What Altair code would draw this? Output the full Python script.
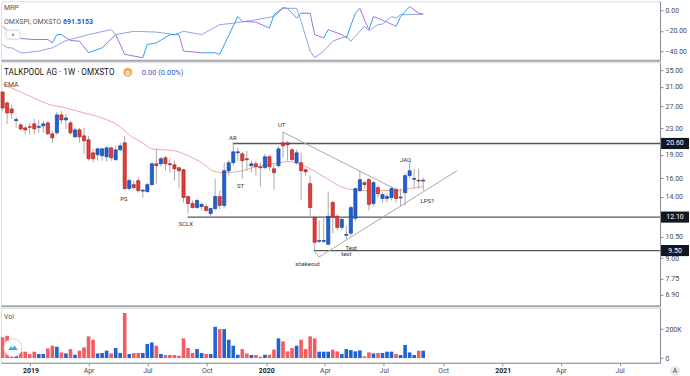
import altair as alt
import pandas as pd

# ---------------- data ----------------
first_bar = "2018-11-19"  # weekly bars, one per Monday

opens = [29.88, 27.61, 26.44, 24.30, 23.57, 23.06, 23.25, 23.74, 23.15, 23.40,
         23.91, 22.09, 22.25, 25.33, 24.43, 23.91, 21.61, 22.73, 21.77, 21.15,
         19.26, 18.98, 18.85, 18.72, 19.96, 18.32, 19.68, 20.70, 14.87, 15.30,
         15.75, 14.60, 14.55, 15.30, 17.79, 17.79, 18.58, 17.79, 17.66, 17.29,
         17.04, 14.04, 13.35, 12.96, 13.06, 13.06, 12.42, 12.87, 14.04, 13.16,
         16.90, 17.93, 19.26, 19.12, 18.45, 17.54, 17.79, 17.41, 17.29, 18.72,
         17.16, 17.54, 20.70, 20.70, 19.68, 17.93, 17.93, 17.04, 15.41, 12.08,
         10.15, 10.15, 9.94, 13.45, 12.17, 11.23, 10.60, 10.76, 11.99, 14.65,
         15.52, 15.86, 13.35, 14.98, 13.84, 13.84, 13.94, 14.76, 13.90, 14.44,
         16.33, 15.90, 15.80, 15.70]
highs = [30.09, 28.01, 27.21, 24.96, 23.91, 23.40, 23.91, 24.61, 24.43, 24.26,
         24.26, 22.57, 25.88, 26.06, 25.51, 24.26, 23.06, 23.06, 23.06, 21.77,
         19.82, 19.96, 19.96, 20.25, 20.10, 20.25, 20.70, 21.77, 16.09, 15.75,
         16.09, 14.87, 15.52, 17.93, 19.82, 18.72, 18.85, 18.45, 18.19, 17.41,
         17.16, 14.14, 13.64, 13.84, 13.45, 13.35, 12.96, 15.97, 14.65, 17.93,
         18.32, 20.60, 19.96, 19.40, 19.54, 18.19, 18.19, 17.93, 19.12, 18.98,
         17.79, 20.25, 22.40, 21.00, 19.96, 19.68, 19.26, 17.16, 16.33, 12.25,
         11.81, 12.17, 14.55, 13.64, 12.34, 12.08, 11.39, 13.16, 14.98, 16.92,
         15.75, 16.09, 15.75, 15.19, 14.44, 14.33, 15.08, 14.98, 14.87, 16.68,
         17.93, 17.16, 17.16, 16.09]
lows = [26.06, 23.74, 24.61, 23.06, 22.57, 21.93, 21.93, 22.09, 22.25, 22.25,
        21.93, 20.70, 21.93, 23.74, 22.89, 21.93, 21.46, 20.70, 19.12, 18.19,
        17.93, 18.19, 18.19, 18.06, 18.19, 18.19, 19.54, 14.76, 14.65, 14.76,
        14.44, 13.94, 14.44, 15.19, 15.41, 17.41, 16.92, 16.68, 15.75, 14.98,
        13.45, 12.42, 12.87, 12.87, 12.69, 12.60, 11.99, 12.69, 12.78, 12.87,
        16.33, 17.54, 18.19, 15.97, 16.92, 16.68, 16.33, 15.08, 17.16, 16.92,
        14.76, 17.29, 18.58, 18.19, 18.19, 17.66, 13.64, 16.33, 12.17, 9.50,
        10.01, 10.01, 9.87, 10.76, 10.99, 10.99, 10.23, 10.53, 11.73, 14.44,
        14.87, 12.69, 13.06, 13.94, 13.45, 13.45, 13.64, 13.45, 13.06, 13.16,
        16.09, 14.87, 14.87, 14.65]
closes = [26.63, 25.69, 25.69, 24.50, 22.89, 22.73, 23.15, 22.89, 23.30, 23.74,
          22.09, 21.46, 25.33, 24.43, 24.78, 22.25, 22.73, 21.61, 21.00, 18.45,
          18.45, 19.82, 19.82, 19.96, 18.58, 19.68, 20.25, 14.87, 15.75, 14.98,
          14.65, 14.70, 15.30, 17.79, 17.54, 18.45, 17.79, 17.66, 17.16, 16.92,
          13.94, 13.35, 12.96, 13.64, 13.26, 12.69, 12.87, 14.04, 13.16, 16.92,
          17.93, 19.40, 19.40, 18.19, 18.32, 17.79, 17.41, 17.29, 18.72, 17.41,
          16.68, 19.82, 20.25, 20.40, 18.32, 19.26, 16.92, 16.80, 12.96, 10.08,
          10.22, 10.22, 12.17, 12.08, 11.23, 11.90, 10.68, 12.96, 14.87, 15.86,
          15.30, 13.26, 15.52, 14.33, 14.24, 14.04, 14.87, 13.84, 13.98, 16.33,
          16.92, 16.00, 15.70, 15.80]
volume_k = [143, 154, 60, 40, 45, 44, 28, 44, 28, 28,
            67, 85, 78, 39, 32, 62, 23, 51, 74, 150,
            127, 32, 35, 51, 32, 69, 35, 311, 28, 35,
            35, 35, 97, 108, 85, 28, 21, 21, 21, 16,
            136, 69, 35, 62, 35, 28, 28, 216, 200, 200,
            127, 85, 23, 62, 32, 21, 21, 9, 23, 23,
            58, 136, 115, 46, 69, 85, 127, 62, 150, 136,
            44, 44, 44, 58, 46, 28, 62, 55, 46, 53,
            12, 39, 32, 35, 35, 44, 44, 28, 21, 90,
            39, 21, 51, 51]

ema_bar = [0, 2, 6, 10, 14, 18, 22, 26, 28, 31, 33, 38, 41, 44, 47, 49, 53, 56,
           59, 63, 66, 68, 71, 76, 80, 87, 90, 93]
ema_val = [31.65, 30.75, 29.03, 27.40, 26.63, 25.69, 24.78, 23.23, 21.93, 20.70,
           19.82, 19.54, 18.85, 17.93, 16.80, 16.68, 16.92, 17.42, 17.67, 18.06,
           17.67, 17.16, 16.21, 14.87, 14.65, 14.65, 14.87, 15.08]

mrp_bar = [0, 2, 4, 7, 10, 11, 12, 13, 15, 17, 19, 22, 25, 27, 31, 32, 34, 37, 39, 40,
           44, 47, 48, 52, 53, 56, 59, 60, 62, 63, 65, 66, 68, 69, 71, 72, 73, 75, 76, 78,
           79, 80, 81, 82, 85, 87, 88, 90, 92, 93]
mrp_val = [-15.7, -23.8, -27.6, -28.6, -28.6, -31.9, -23.8, -23.8, -29.6, -30.2,
           -41.5, -36.7, -23.8, -43.1, -46.4, -33.4, -31.9, -23.8, -23.8, -39.9,
           -41.5, -41.5, -43.1, -6.1, -10.9, -11.6, -17.4, -4.4, 2.6, 1.9,
           -7.7, -2.9, -2.9, -23.8, -27.1, -18.9, -20.6, -23.8, -27.0, -2.9,
           1.9, -9.3, -18.9, -6.1, -11.6, -15.7, -6.1, 3.6, -2.9, -3.8]
mrp2_bar = [0, 1, 2, 4, 5, 8, 11, 14, 19, 24, 25, 29, 34, 38, 40, 44, 48, 51, 56, 60,
            62, 65, 66, 68, 69, 71, 73, 76, 77, 80, 81, 83, 84, 86, 87, 88, 93]
mrp2_val = [-33.4, -36.7, -36.7, -41.5, -41.5, -39.9, -36.7, -29.6, -23.8, -18.9,
            -23.8, -20.6, -21.3, -23.8, -20.6, -23.8, -14.1, -12.6, -9.3, -6.1,
            1.9, 1.9, -10.9, -39.9, -46.4, -39.9, -30.2, -25.4, -30.2, -15.7,
            -19.9, -14.1, -13.5, -6.1, -7.7, -4.4, -3.8]

level_price = [20.60, 12.10, 9.50]
level_from_bar = [50.9, 40.9, 68.8]

trend_name = ["ut", "ut", "lps", "lps", "lps"]
trend_bar = [61.9, 87.5, 68.8, 69.9, 100.5]
trend_price = [22.40, 14.65, 9.52, 9.05, 16.93]

ann_text = ["PS", "SCLX", "AR", "ST", "UT", "JAQ", "LPS?", "shakeout", "Test", "test"]
ann_bar = [26.8, 40.5, 50.9, 52.6, 61.7, 89.1, 93.9, 67.4, 77.1, 76.0]
ann_price = [13.74, 11.48, 21.46, 15.19, 23.56, 18.32, 13.64, 8.61, 9.66, 9.25]

main_ticks = [35, 31, 27, 23, 19, 16, 14, 10.5, 9, 7.75, 6.9]
mrp_ticks = [0, -20, -40]
vol_ticks = [0, 200000]
month_ticks = ["2019-01-01", "2019-04-01", "2019-07-01", "2019-10-01",
               "2020-01-01", "2020-04-01", "2020-07-01", "2020-10-01",
               "2021-01-01", "2021-04-01", "2021-07-01"]

# ---------------- styling ----------------
FONT = "Roboto"
W = 660
H_TOP, H_MAIN, H_VOL = 59, 244, 55
RED, RED_D = "#e5393a", "#9c1c1a"
BLUE, BLUE_D = "#1d61d6", "#0e3a93"
VRED, VBLUE = "#f25c62", "#1f63d3"
WICK = "#aaaaaa"
EMA_C = "#f4a3a3"
PURPLE, LBLUE, PERI = "#a66ee0", "#2f9ef5", "#8fa3e8"
SEP = "#a3a6ae"
AX = "#8a8d96"
LBL = "#4a4a4a"


def ms(ts):
    return int(pd.Timestamp(ts).value // 10**6)


t0 = pd.Timestamp(first_bar)


def bar_ms(k):
    return int((t0 + pd.Timedelta(days=7 * k)).value // 10**6)


x_dom = [ms("2018-11-16 12:00"), ms("2021-09-01 14:00")]
tick_vals = [ms(d) for d in month_ticks]

n = len(opens)
df = pd.DataFrame({
    "t": [bar_ms(i) for i in range(n)],
    "o": opens, "h": highs, "l": lows, "c": closes,
    "v": [v * 1000 for v in volume_k],
})
df["z"] = 0

ema_df = pd.DataFrame({"t": [bar_ms(k) for k in ema_bar], "p": ema_val})
mrp_t = [bar_ms(k) for k in mrp_bar]
seg_df = pd.DataFrame({"t": mrp_t[:-1], "t2": mrp_t[1:],
                       "v": mrp_val[:-1], "v2": mrp_val[1:]})
mrp2_df = pd.DataFrame({"t": [bar_ms(k) for k in mrp2_bar], "v": mrp2_val})
lev_df = pd.DataFrame({"t": [bar_ms(k) for k in level_from_bar],
                       "t2": [x_dom[1]] * len(level_price),
                       "p": level_price,
                       "lab": [f"{p:.2f}" for p in level_price]})
trend_df = pd.DataFrame({"g": trend_name, "t": [bar_ms(k) for k in trend_bar],
                         "p": trend_price})
ann_df = pd.DataFrame({"t": [bar_ms(k) for k in ann_bar], "p": ann_price,
                       "txt": ann_text})
one = pd.DataFrame({"a": [0]})


def X(field, axis):
    return alt.X(f"{field}:T",
                 scale=alt.Scale(type="utc", domain=x_dom, nice=False, padding=0),
                 axis=axis, title=None)


sep_axis = alt.Axis(labels=False, ticks=False, domain=True, domainColor=SEP,
                    domainWidth=2, grid=False)
bottom_axis = alt.Axis(values=tick_vals,
                       labelExpr="utcmonth(datum.value) == 0 ? utcFormat(datum.value, '%Y') : utcFormat(datum.value, '%b')",
                       labelFontWeight={"condition": {"test": "utcmonth(datum.value) == 0", "value": "bold"}, "value": "normal"},
                       labelColor={"condition": {"test": "utcmonth(datum.value) == 0", "value": "#222222"}, "value": LBL},
                       labelFontSize=7, tickSize=3, tickColor=AX, domainColor=AX,
                       domainWidth=1, grid=False, labelPadding=1, labelFlush=False,
                       labelOverlap=False)


def right_axis(values, **kw):
    return alt.Axis(orient="right", values=values, grid=False, tickSize=3,
                    tickColor=AX, domainColor=AX, labelColor=LBL, labelFontSize=7,
                    labelPadding=2, labelOverlap=False, labelFlush=False, **kw)


def text_at(x, y, s, size=7, color=LBL, weight="normal", align="left", baseline="alphabetic"):
    return alt.Chart(one).mark_text(fontSize=size, color=color, fontWeight=weight,
                                    align=align, baseline=baseline, font=FONT).encode(
        x=alt.value(x), y=alt.value(y), text=alt.value(s))


# ---------------- top panel: MRP ----------------
top_ys = alt.Scale(domain=[-48.8, 8.8], nice=False, zero=False, padding=0)
top_ax = right_axis(mrp_ticks, format=".2f")

mrp2_line = alt.Chart(mrp2_df).mark_line(color=PERI, strokeWidth=1).encode(
    x=X("t", sep_axis), y=alt.Y("v:Q", scale=top_ys, axis=top_ax, title=None))
mrp_seg = alt.Chart(seg_df).mark_rule(strokeWidth=1).encode(
    x=X("t", sep_axis), x2="t2:T",
    y=alt.Y("v:Q", scale=top_ys, axis=top_ax, title=None), y2="v2:Q",
    color=alt.condition("datum.v2 >= datum.v", alt.value(LBLUE), alt.value(PURPLE)))
btn = alt.Chart(one).mark_rect(fill="white", stroke="#d4d4d8", cornerRadius=2).encode(
    x=alt.value(5), x2=alt.value(19), y=alt.value(29), y2=alt.value(38))

top = alt.layer(
    mrp2_line, mrp_seg,
    text_at(3, 8.5, "MRP", 7, "#555555"),
    text_at(3, 23, "OMXSPI, OMXSTO", 7, "#555555"),
    text_at(62, 23, "691.5153", 7, "#2f55c4", "bold"),
    btn, text_at(12, 37.5, "^", 7, "#333333", align="center"),
).properties(width=W, height=H_TOP)

# ---------------- main panel: candles ----------------
main_ys = alt.Scale(type="log", domain=[6.37, 37.08], nice=False, padding=0)
main_ax = right_axis(main_ticks, format=".2f")


def YM(field):
    return alt.Y(f"{field}:Q", scale=main_ys, axis=main_ax, title=None)


levels = alt.Chart(lev_df).mark_rule(color="#565656", strokeWidth=1.3).encode(
    x=X("t", sep_axis), x2="t2:T", y=YM("p"))
trends = alt.Chart(trend_df).mark_line(color="#a8a8a8", strokeWidth=1).encode(
    x=X("t", sep_axis), y=YM("p"), detail="g:N")
ema = alt.Chart(ema_df).mark_line(color=EMA_C, strokeWidth=1, interpolate="monotone").encode(
    x=X("t", sep_axis), y=YM("p"))
wicks = alt.Chart(df).mark_rule(color=WICK, strokeWidth=1).encode(
    x=X("t", sep_axis), y=YM("l"), y2="h:Q")
bodies = alt.Chart(df).mark_bar(width=3.2, strokeWidth=0.6).encode(
    x=X("t", sep_axis), y=YM("o"), y2="c:Q",
    color=alt.condition("datum.c >= datum.o", alt.value(BLUE), alt.value(RED)),
    stroke=alt.condition("datum.c >= datum.o", alt.value(BLUE_D), alt.value(RED_D)))
anns = alt.Chart(ann_df).mark_text(fontSize=6, color="#333333", font=FONT).encode(
    x=X("t", sep_axis), y=YM("p"), text="txt:N")
boxes = alt.Chart(lev_df).transform_calculate(
    hi="datum.p * 1.041", lo="datum.p / 1.041").mark_rect(color="#131722").encode(
    x=alt.value(661), x2=alt.value(689), y=YM("hi"), y2="lo:Q")
box_txt = alt.Chart(lev_df).mark_text(color="white", fontSize=7, font=FONT, align="center").encode(
    x=alt.value(675), y=YM("p"), text="lab:N")
dmark = alt.Chart(one).mark_point(filled=True, shape="circle", size=80, color="#f6ae4a", opacity=1).encode(
    x=alt.value(127), y=alt.value(10))

main = alt.layer(
    levels, trends, ema, wicks, bodies, anns, boxes, box_txt,
    text_at(3, 13, "TALKPOOL AG · 1W · OMXSTO", 8.2, "#131722"),
    dmark, text_at(127, 12.5, "D", 6, "white", "bold", align="center"),
    text_at(141, 13, "0.00 (0.00%)", 7.5, "#2f55c4"),
    text_at(3, 25, "EMA", 7, "#444444"),
).properties(width=W, height=H_MAIN)

# ---------------- volume panel ----------------
vol_ys = alt.Scale(domain=[-32400, 346900], nice=False, zero=False, padding=0)
vol_ax = right_axis(vol_ticks, labelExpr="datum.value == 0 ? '0' : format(datum.value / 1000, 'd') + 'K'")

vbars = alt.Chart(df).mark_bar(width=3.6).encode(
    x=X("t", bottom_axis),
    y=alt.Y("v:Q", scale=vol_ys, axis=vol_ax, title=None), y2="z:Q",
    color=alt.condition("datum.c >= datum.o", alt.value(VBLUE), alt.value(VRED)))
logo = alt.Chart(one).mark_point(filled=True, shape="circle", size=330, color="white",
                                 stroke="#d0d0d0", strokeWidth=1, opacity=1).encode(
    x=alt.value(12), y=alt.value(40))
logo_icon = alt.Chart(one).mark_point(filled=True, shape="M-1,0.45L-0.45,-0.3L-0.1,0.1L0.35,-0.5L1,0.45Z",
                                      size=90, color="#3aa7ec", opacity=1).encode(
    x=alt.value(12), y=alt.value(40))
a_circle = alt.Chart(one).mark_point(filled=True, shape="circle", size=110, color="#e9eaf0", opacity=1).encode(
    x=alt.value(675), y=alt.value(63))

vol = alt.layer(
    vbars, logo, logo_icon, a_circle,
    text_at(675, 65.5, "A", 7, "#444444", align="center"),
    text_at(3, 11, "Vol", 7, "#555555"),
).properties(width=W, height=H_VOL)

chart = alt.vconcat(top, main, vol, spacing=0).resolve_scale(
    y="independent").properties(
    padding={"left": 0, "top": 0, "right": 0, "bottom": 0},
    background="white").configure_view(stroke=None).configure(font=FONT)

chart.save("out.html", embed_options={"renderer": "svg", "actions": False})
